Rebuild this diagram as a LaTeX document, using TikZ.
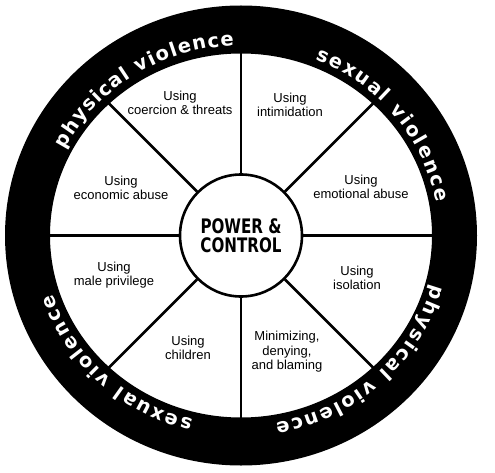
\documentclass[tikz,border=0pt]{standalone}
\usepackage{fontspec}
\setmainfont{Liberation Sans}
\newfontfamily\ringfont{DejaVu Sans}
\newfontfamily\pcfont{DejaVu Sans Condensed}
\usetikzlibrary{decorations.text}
\begin{document}
\begin{tikzpicture}[x=1pt,y=1pt,
  lbl/.style={align=center, inner sep=0pt, font=\fontsize{13}{14.5}\selectfont},
  spoke/.style={line width=2.6pt},
  ringtext/.style={decorate, decoration={text along path, text align={fit to path}, text color=white}}]
\useasboundingbox (0,0) rectangle (495,472);
\fill[white] (0,0) rectangle (495,472);
\coordinate (C) at (241,236.5);
\node[draw, circle, line width=2.6pt, minimum size=122pt, inner sep=0pt, align=center,
  font=\pcfont\bfseries\fontsize{20}{20}\selectfont] (pc) at (C)
  {\scalebox{0.84}[1]{POWER \&}\\[-1pt]\scalebox{0.84}[1]{CONTROL}};
\foreach \a in {0,45,...,315} {\coordinate (s\a) at ([shift={(\a:200)}]C);}
\foreach \a in {0,45,...,315} {\draw[spoke] (pc.\a) -- (s\a);}
\fill[black, even odd rule] (C) ellipse [x radius=236, y radius=230] (C) ellipse [x radius=191, y radius=182];
% ring texts
\path[ringtext, decoration={text={|\ringfont\bfseries\fontsize{19.5}{19.5}\selectfont|physical violence}}]
  ([shift={(153:198 and 190)}]C) arc[start angle=153, end angle=92, x radius=198, y radius=190];
\path[ringtext, decoration={text={|\ringfont\bfseries\fontsize{19.5}{19.5}\selectfont|sexual violence}}]
  ([shift={(68:198 and 190)}]C) arc[start angle=68, end angle=10, x radius=198, y radius=190];
\path[ringtext, decoration={text={|\ringfont\bfseries\fontsize{19.5}{19.5}\selectfont|physical violence}}]
  ([shift={(-15:198 and 190)}]C) arc[start angle=-15, end angle=-80, x radius=198, y radius=190];
\path[ringtext, decoration={text={|\ringfont\bfseries\fontsize{19.5}{19.5}\selectfont|sexual violence}}]
  ([shift={(-104:198 and 190)}]C) arc[start angle=-104, end angle=-162, x radius=198, y radius=190];
% labels
\node[lbl] (coer) at (180,369) {Using\\coercion \& threats};
\node[lbl] (intim) at (290,367) {Using\\intimidation};
\node[lbl] (emot) at (361,285) {Using\\emotional abuse};
\node[lbl] (econ) at (121,284) {Using\\economic abuse};
\node[lbl] (male) at (114,197) {Using\\male privilege};
\node[lbl] (child) at (188,124) {Using\\children};
\node[lbl] (isol) at (357,194) {Using\\isolation};
\node[lbl] (mini) at (287,120) {Minimizing,\\denying,\\and blaming};
\end{tikzpicture}
\end{document}
